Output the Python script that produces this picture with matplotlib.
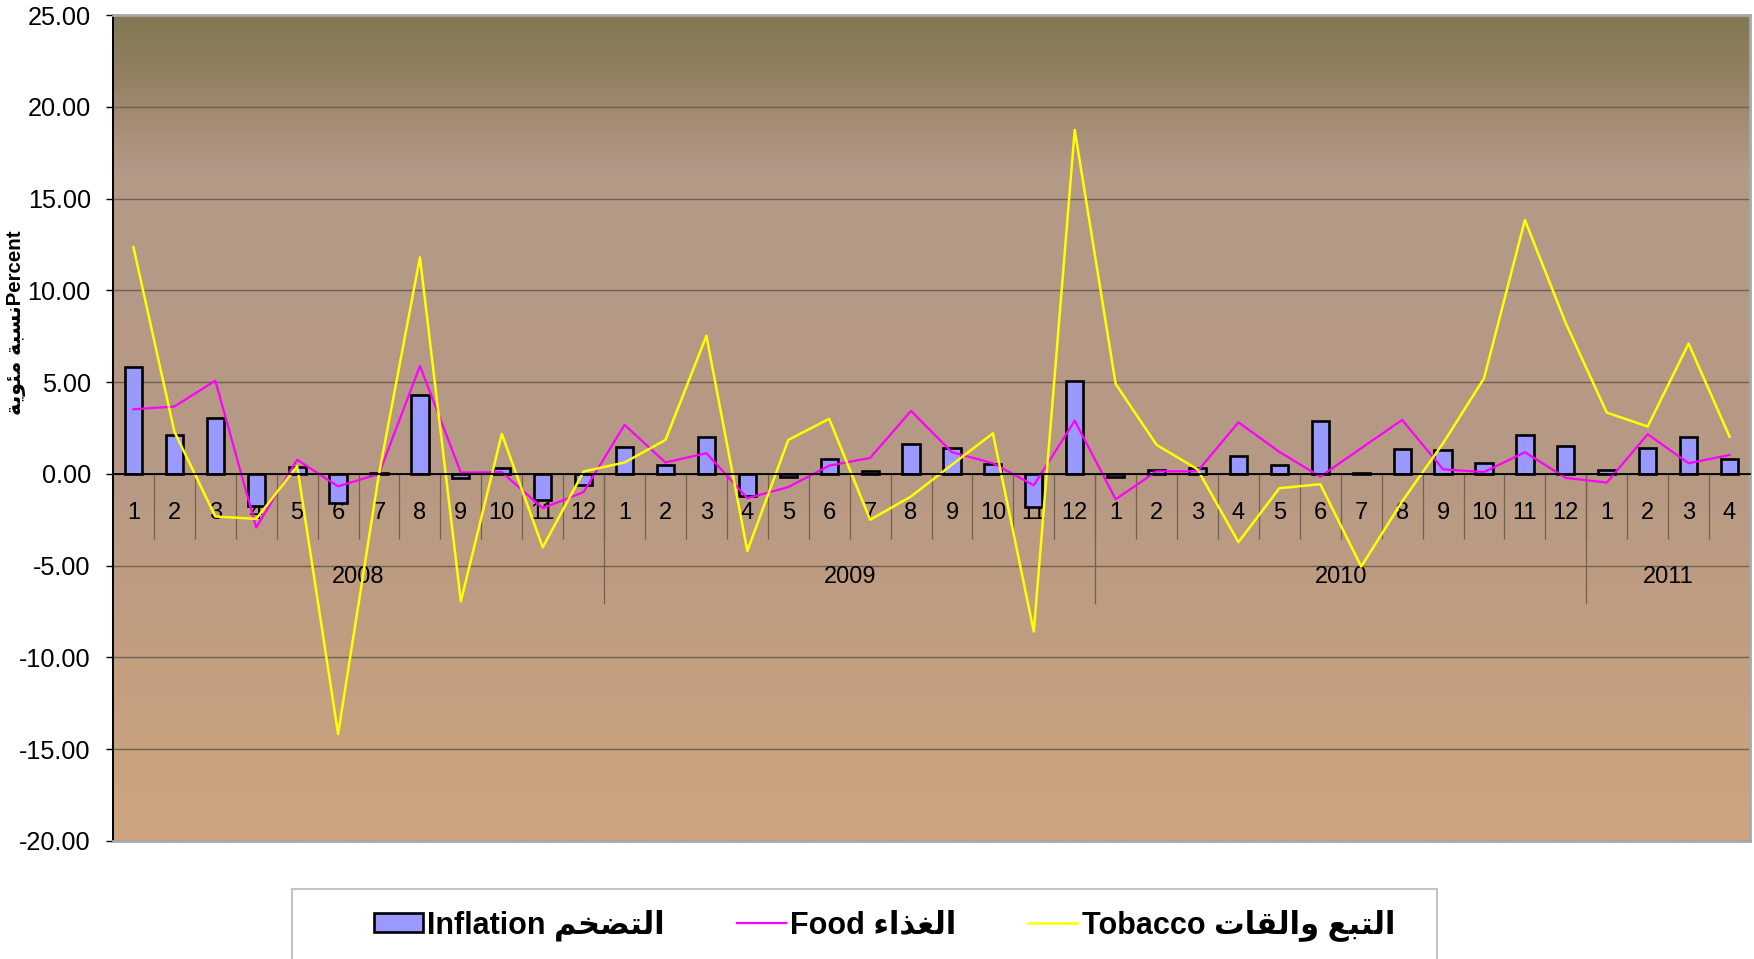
import numpy as np
import matplotlib
matplotlib.use("Agg")
import matplotlib.pyplot as plt
from matplotlib.colors import LinearSegmentedColormap
from matplotlib.patches import Rectangle

# ---------------- data ----------------
years = ["2008", "2009", "2010", "2011"]
months_per_year = [12, 12, 12, 4]
month_labels = [str(m) for n in months_per_year for m in range(1, n + 1)]

inflation = [5.85, 2.12, 3.07, -1.77, 0.40, -1.59, 0.05, 4.32, -0.24, 0.31, -1.41, -0.59,
             1.47, 0.49, 2.03, -1.18, -0.17, 0.83, 0.16, 1.62, 1.42, 0.54, -1.78, 5.08,
             -0.16, 0.20, 0.30, 0.98, 0.50, 2.89, 0.07, 1.36, 1.29, 0.60, 2.14, 1.52,
             0.22, 1.42, 2.03, 0.80]
food = [3.52, 3.67, 5.08, -2.92, 0.77, -0.68, 0.00, 5.88, 0.07, 0.10, -1.87, -0.99,
        2.67, 0.62, 1.13, -1.32, -0.72, 0.45, 0.87, 3.43, 1.18, 0.58, -0.62, 2.90,
        -1.38, 0.14, 0.14, 2.81, 1.20, -0.15, 1.40, 2.94, 0.25, 0.10, 1.18, -0.22,
        -0.47, 2.16, 0.58, 1.03]
tobacco = [12.35, 2.30, -2.32, -2.45, 0.42, -14.17, 0.00, 11.80, -6.95, 2.18, -4.00, 0.13,
           0.62, 1.85, 7.52, -4.20, 1.85, 3.00, -2.50, -1.23, 0.50, 2.21, -8.59, 18.74,
           4.90, 1.58, 0.25, -3.72, -0.78, -0.56, -5.05, -1.50, 1.67, 5.20, 13.83, 8.20,
           3.34, 2.58, 7.10, 2.03]

ylabel_ar = "نسبة مئوية"
ylabel_en = "Percent"
name_inf = ("Inflation", "التضخم")
name_food = ("Food", "الغذاء")
name_tob = ("Tobacco", "التبع والقات")

# ------------- minimal Arabic shaping (presentation forms, visual order) -------------
FORMS = {
    'ا': (0xFE8D, 0xFE8E, None, None), 'ب': (0xFE8F, 0xFE90, 0xFE91, 0xFE92),
    'ة': (0xFE93, 0xFE94, None, None), 'ت': (0xFE95, 0xFE96, 0xFE97, 0xFE98),
    'خ': (0xFEA5, 0xFEA6, 0xFEA7, 0xFEA8), 'ذ': (0xFEAB, 0xFEAC, None, None),
    'س': (0xFEB1, 0xFEB2, 0xFEB3, 0xFEB4), 'ض': (0xFEBD, 0xFEBE, 0xFEBF, 0xFEC0),
    'ع': (0xFEC9, 0xFECA, 0xFECB, 0xFECC), 'غ': (0xFECD, 0xFECE, 0xFECF, 0xFED0),
    'ق': (0xFED5, 0xFED6, 0xFED7, 0xFED8), 'ل': (0xFEDD, 0xFEDE, 0xFEDF, 0xFEE0),
    'م': (0xFEE1, 0xFEE2, 0xFEE3, 0xFEE4), 'ن': (0xFEE5, 0xFEE6, 0xFEE7, 0xFEE8),
    'و': (0xFEED, 0xFEEE, None, None), 'ي': (0xFEF1, 0xFEF2, 0xFEF3, 0xFEF4),
    'ئ': (0xFE89, 0xFE8A, 0xFE8B, 0xFE8C), 'ء': (0xFE80, None, None, None),
}


def shape_ar(text):
    out = []
    for i, ch in enumerate(text):
        if ch not in FORMS:
            out.append(ch)
            continue
        f = FORMS[ch]
        prev = text[i - 1] if i > 0 else None
        nxt = text[i + 1] if i + 1 < len(text) else None
        jp = prev in FORMS and FORMS[prev][2] is not None and f[1] is not None
        jn = nxt in FORMS and f[2] is not None and FORMS[nxt][1] is not None
        if jp and jn:
            c = f[3]
        elif jp:
            c = f[1]
        elif jn:
            c = f[2]
        else:
            c = f[0]
        out.append(chr(c))
    return "".join(reversed(out))


FAM = ["Liberation Sans", "DejaVu Sans"]
plt.rcParams["font.family"] = FAM

# ---------------- figure ----------------
W, H = 1754, 959
fig = plt.figure(figsize=(W / 100, H / 100), dpi=100)
fig.patch.set_facecolor("white")
L, R, T, B = 113, 1750, 15, 841
ax = fig.add_axes([L / W, 1 - B / H, (R - L) / W, (B - T) / H])

n = len(month_labels)
x = np.arange(n)
ax.set_xlim(-0.5, n - 0.5)
ax.set_ylim(-20, 25)

# gradient background
stops = [(0.0, "#827953"), (0.07, "#918061"), (0.12, "#A28B72"), (0.19, "#B49A88"),
         (0.55, "#B69984"), (0.78, "#C39E80"), (1.0, "#CEA57E")]
cmap = LinearSegmentedColormap.from_list("bg", stops)
grad = np.linspace(0, 1, 512).reshape(-1, 1)
ax.imshow(grad, cmap=cmap, aspect="auto", extent=(-0.5, n - 0.5, -20, 25),
          origin="upper", zorder=-2, interpolation="bilinear")

# grid
ax.set_yticks(np.arange(-20, 26, 5))
ax.yaxis.grid(True, color="#6f6253", lw=1.0, zorder=-1)
ax.set_axisbelow(True)

# data
bars = ax.bar(x, inflation, width=0.42, color="#9999FF", edgecolor="black", lw=1.9, zorder=3)
lf, = ax.plot(x, food, color="#FF00FF", lw=1.6, zorder=4)
lt, = ax.plot(x, tobacco, color="#FFFF00", lw=1.8, zorder=5)

# spines
ax.spines["bottom"].set_position(("data", 0))
ax.spines["bottom"].set_color("black")
ax.spines["bottom"].set_linewidth(1.3)
ax.spines["bottom"].set_zorder(6)
ax.spines["left"].set_color("black")
ax.spines["left"].set_linewidth(1.4)
for s in ("top", "right"):
    ax.spines[s].set_color("#a8a8a8")
    ax.spines[s].set_linewidth(2.0)
ax.plot([0, 1], [0, 0], transform=ax.transAxes, color="#a8a8a8", lw=2.0, clip_on=False, zorder=6)

# y ticks
ax.set_yticklabels([f"{v:.2f}" for v in np.arange(-20, 26, 5)], fontsize=18.2)
ax.tick_params(axis="y", length=5, width=1, color="black", pad=11)

# x ticks: labels at centres, boundary ticks as minor ticks
ax.set_xticks(x)
ax.set_xticklabels(month_labels, fontsize=17)
ax.tick_params(axis="x", which="major", length=0, pad=20)
ax.set_xticks(np.arange(0.5, n - 1, 1), minor=True)
ax.tick_params(axis="x", which="minor", length=47, width=0.9, color="#6f6253", direction="out")

# year separators and year labels
ends = np.cumsum(months_per_year)
starts = ends - np.array(months_per_year)
ax.vlines(ends[:-1] - 0.5, -7.08, 0, color="#6f6253", lw=0.9, zorder=1)
for yr, s, e in zip(years, starts, ends):
    ax.text((s + e - 1) / 2, -5.6, yr, ha="center", va="center", fontsize=17, zorder=2)

# y label
fig.text(17 / W, 1 - 323 / H, shape_ar(ylabel_ar) + ylabel_en, rotation=90,
         ha="center", va="center", fontsize=14.8, fontweight="bold")

# legend frame + legend
fig.patches.append(Rectangle((292 / W, 1 - 975 / H), (1437 - 292) / W, (975 - 889) / H,
                             transform=fig.transFigure, facecolor="white",
                             edgecolor="#c4c4c4", lw=1.5, zorder=0))
labels = [f"{e} {shape_ar(a)}" for e, a in (name_inf, name_food, name_tob)]
leg = fig.legend([bars, lf, lt], labels, loc="center left",
                 bbox_to_anchor=(374 / W, 1 - 925 / H), ncol=3, frameon=False,
                 prop={"family": FAM, "weight": "bold", "size": 22},
                 handlelength=1.6, handleheight=0.56, handletextpad=0.15,
                 columnspacing=2.35, borderpad=0, borderaxespad=0)

fig.savefig("out.png", dpi=100)
